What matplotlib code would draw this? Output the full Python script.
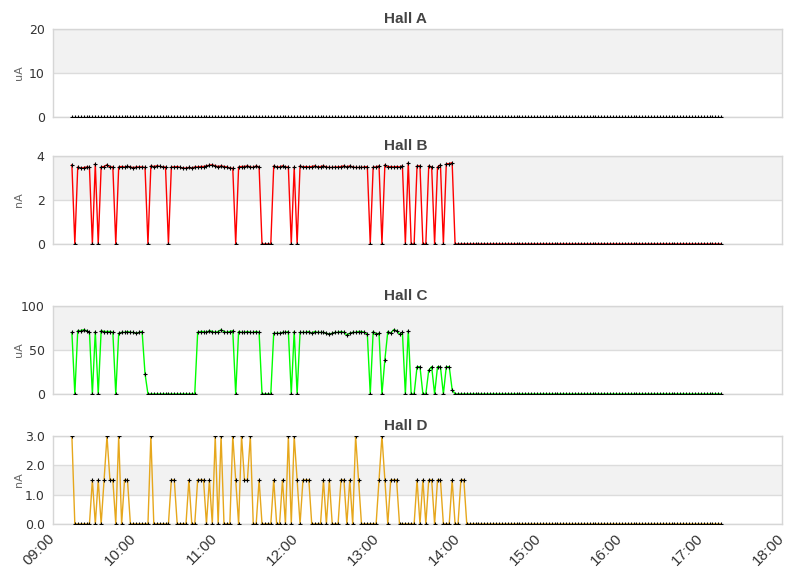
import matplotlib.pyplot as plt

# sample times: first reading 09:14, one reading every 130 s
start_min = 9 * 60 + 14
step_min = 130 / 60
n_points = 223

hour_ticks = [540, 600, 660, 720, 780, 840, 900, 960, 1020, 1080]
hour_labels = ["09:00", "10:00", "11:00", "12:00", "13:00",
               "14:00", "15:00", "16:00", "17:00", "18:00"]

hall_a = [0] * n_points

hall_b_active = [
    3.6, 0, 3.5, 3.45, 3.47, 3.5, 3.48, 0, 3.65, 0,
    3.5, 3.52, 3.6, 3.5, 3.5, 0,
    3.5, 3.52, 3.5, 3.53, 3.5, 3.47, 3.5, 3.5, 3.5, 3.48, 0,
    3.55, 3.52, 3.55, 3.53, 3.5, 3.5, 0,
    3.5, 3.5, 3.52, 3.48, 3.45, 3.45, 3.48, 3.45, 3.5, 3.5, 3.52,
    3.52, 3.55, 3.58, 3.6, 3.55, 3.52, 3.55, 3.52, 3.5, 3.45, 3.44, 0,
    3.5, 3.52, 3.52, 3.55, 3.5, 3.48, 3.55, 3.5, 0, 0, 0, 0,
    3.55, 3.5, 3.5, 3.55, 3.5, 3.5, 0, 3.5, 0,
    3.55, 3.5, 3.52, 3.5, 3.52, 3.55, 3.5, 3.52, 3.55, 3.5, 3.48, 3.48,
    3.5, 3.5, 3.52, 3.55, 3.5, 3.55, 3.5, 3.48, 3.48, 3.48, 3.5, 3.52, 0,
    3.5, 3.5, 3.55, 0,
    3.6, 3.5, 3.52, 3.5, 3.52, 3.5, 3.55, 0,
    3.7, 0, 0, 3.55, 3.55, 0, 0, 3.55, 3.5, 0, 3.5, 3.6, 0,
    3.65, 3.65, 3.7,
]

hall_c_active = [
    70, 0, 72, 72, 73, 72, 70, 0, 71, 0,
    72, 71, 71, 71, 70, 0,
    69, 70, 70, 71, 70, 70, 69, 70, 71, 23,
    0, 0, 0, 0, 0, 0, 0, 0, 0, 0, 0, 0, 0, 0, 0, 0, 0,
    70, 71, 71, 70, 72, 71, 70, 71, 73, 71, 70, 71, 72, 0,
    71, 70, 70, 71, 70, 70, 71, 70, 0, 0, 0, 0,
    69, 69, 69, 70, 70, 71, 0, 71, 0,
    70, 70, 70, 71, 69, 71, 70, 70, 70, 69, 68, 69,
    70, 70, 71, 70, 67, 69, 70, 70, 71, 71, 70, 68, 0,
    71, 68, 69, 0, 39, 71, 69, 73, 72, 68, 70, 0,
    72, 0, 0, 31, 31, 0, 0, 27, 31, 0, 31, 31, 0,
    31, 31, 5,
]

hall_d_active = [
    3, 0, 0, 0, 0, 0, 0, 1.5, 0, 1.5, 0, 1.5, 3, 1.5, 1.5, 0, 3, 0,
    1.5, 1.5, 0, 0, 0, 0, 0, 0, 0, 3, 0, 0, 0, 0, 0, 0,
    1.5, 1.5, 0, 0, 0, 0, 1.5, 0, 0, 1.5, 1.5, 1.5, 0, 1.5, 0, 3,
    0, 3, 0, 0, 0, 3, 1.5, 0, 3, 1.5, 1.5, 3, 0, 0, 1.5,
    0, 0, 0, 0, 1.5, 0, 0, 1.5, 0, 3, 0, 3, 1.5, 0,
    1.5, 1.5, 1.5, 0, 0, 0, 0, 1.5, 0, 1.5, 0, 0, 0,
    1.5, 1.5, 0, 1.5, 0, 3, 1.5, 0, 0, 0, 0, 0, 0,
    1.5, 3, 1.5, 0, 1.5, 1.5, 1.5, 0, 0, 0, 0, 0, 0,
    1.5, 0, 1.5, 0, 1.5, 1.5, 0, 1.5, 1.5, 0, 0, 0,
    1.5, 0, 0, 1.5, 1.5,
]

hall_b = hall_b_active + [0] * (n_points - len(hall_b_active))
hall_c = hall_c_active + [0] * (n_points - len(hall_c_active))
hall_d = hall_d_active + [0] * (n_points - len(hall_d_active))

times = [start_min + i * step_min for i in range(n_points)]

panels = [
    ("Hall A", "uA", hall_a, None, [0, 10, 20], "{:.0f}"),
    ("Hall B", "nA", hall_b, "#ff0000", [0, 2, 4], "{:.0f}"),
    ("Hall C", "uA", hall_c, "#00ff00", [0, 50, 100], "{:.0f}"),
    ("Hall D", "nA", hall_d, "#e6a71c", [0, 1, 2, 3], "{:.1f}"),
]
tops_px = [29, 156, 306, 436]

W, H = 811, 578
fig = plt.figure(figsize=(W / 100, H / 100), dpi=100)
ax_left, ax_w, ax_h = 53, 729, 88

for k, (name, unit, vals, color, yticks, fmt) in enumerate(panels):
    top = tops_px[k]
    ax = fig.add_axes([ax_left / W, 1 - (top + ax_h) / H, ax_w / W, ax_h / H])
    ax.set_xlim(540, 1080)
    ax.set_ylim(yticks[0], yticks[-1])

    for j in range(len(yticks) - 1):
        if j % 2 == 1:
            ax.axhspan(yticks[j], yticks[j + 1], color="#f2f2f2", zorder=0, lw=0)
    for t in yticks:
        ax.axhline(t, color="#dcdcdc", lw=1, zorder=1)

    style = dict(marker="+", ms=3, mew=0.8, mec="black", zorder=3, clip_on=True)
    if color is None:
        ax.plot(times, vals, ls="none", **style)
    else:
        ax.plot(times, vals, color=color, lw=1, **style)

    for s in ax.spines.values():
        s.set_color("#d6d6d6")
        s.set_linewidth(1)

    ax.set_yticks(yticks)
    ax.set_yticklabels([fmt.format(t) for t in yticks])
    ax.set_xticks(hour_ticks)
    ax.tick_params(length=0, labelsize=9, colors="#333333", pad=6)
    if k == 3:
        ax.set_xticklabels(hour_labels, rotation=45, ha="right", va="center",
                           rotation_mode="anchor", family="Liberation Sans")
        ax.tick_params(axis="x", labelsize=11, pad=9)
    else:
        ax.set_xticklabels([])

    # titles are centred on the whole figure, not on the plot area
    ax.set_title(name, fontsize=11, fontweight="bold", color="#444444",
                 family="Liberation Sans", pad=4,
                 x=(W / 2 - ax_left) / ax_w)
    ax.set_ylabel(unit, fontsize=8, color="#666666")
    ax.yaxis.set_label_coords((24 - ax_left) / ax_w, 0.5)

fig.savefig("out.png", dpi=100)
